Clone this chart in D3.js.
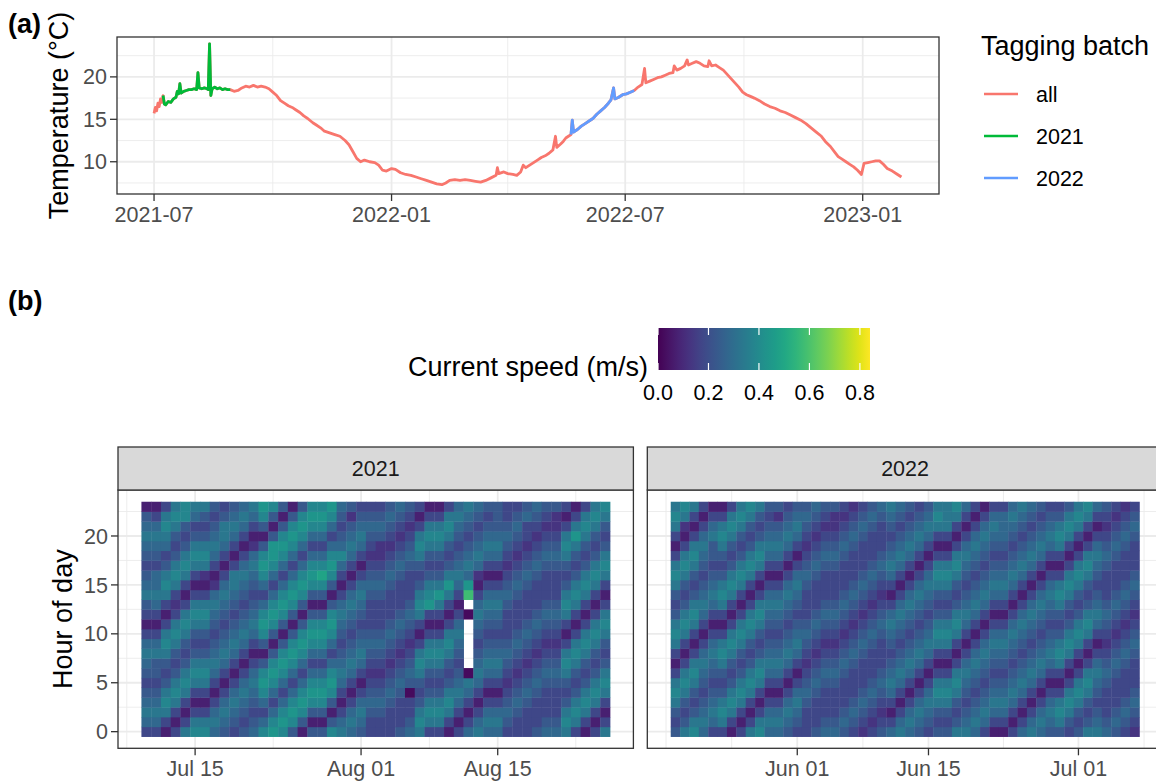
<!DOCTYPE html>
<html>
<head>
<meta charset="utf-8">
<script src="https://cdn.jsdelivr.net/npm/d3@7"></script>
<style>
  body { margin: 0; background: #fff; }
  svg { display: block; font-family: "Liberation Sans", Arial, sans-serif; }
</style>
</head>
<body>
<svg id="chart" width="1156" height="783"></svg>
<script>

//============================================================
// Data
//------------------------------------------------------------

// (a) water temperature, all records
var tempDates = [
  '2021-07-01','2021-07-02','2021-07-03','2021-07-04','2021-07-05','2021-07-06','2021-07-07','2021-07-08',
  '2021-07-09','2021-07-10','2021-07-12','2021-07-14','2021-07-16','2021-07-18','2021-07-19','2021-07-20',
  '2021-07-21','2021-07-22','2021-07-24','2021-07-26','2021-07-28','2021-07-30','2021-08-01','2021-08-03',
  '2021-08-04','2021-08-05','2021-08-07','2021-08-09','2021-08-11','2021-08-12','2021-08-13','2021-08-14',
  '2021-08-15','2021-08-17','2021-08-19','2021-08-21','2021-08-23','2021-08-25','2021-08-27','2021-08-29',
  '2021-09-01','2021-09-04','2021-09-07','2021-09-10','2021-09-13','2021-09-16','2021-09-19','2021-09-22',
  '2021-09-25','2021-09-28','2021-10-01','2021-10-04','2021-10-07','2021-10-10','2021-10-13','2021-10-16',
  '2021-10-19','2021-10-22','2021-10-25','2021-10-28','2021-11-01','2021-11-04','2021-11-07','2021-11-10',
  '2021-11-14','2021-11-18','2021-11-22','2021-11-26','2021-11-29','2021-12-02','2021-12-05','2021-12-08',
  '2021-12-11','2021-12-15','2021-12-19','2021-12-22','2021-12-25','2021-12-28','2022-01-01','2022-01-04',
  '2022-01-08','2022-01-12','2022-01-16','2022-01-20','2022-01-24','2022-01-28','2022-02-01','2022-02-05',
  '2022-02-09','2022-02-12','2022-02-15','2022-02-19','2022-02-23','2022-02-27','2022-03-03','2022-03-07',
  '2022-03-11','2022-03-15','2022-03-19','2022-03-23','2022-03-24','2022-03-25','2022-03-29','2022-04-01',
  '2022-04-05','2022-04-08','2022-04-11','2022-04-13','2022-04-15','2022-04-18','2022-04-21','2022-04-24',
  '2022-04-27','2022-04-30','2022-05-03','2022-05-06','2022-05-08','2022-05-09','2022-05-12','2022-05-14',
  '2022-05-16','2022-05-18','2022-05-20','2022-05-21','2022-05-22','2022-05-25','2022-05-28','2022-05-31',
  '2022-06-03','2022-06-06','2022-06-09','2022-06-12','2022-06-15','2022-06-18','2022-06-20','2022-06-22',
  '2022-06-23','2022-06-26','2022-06-29','2022-07-02','2022-07-05','2022-07-08','2022-07-11','2022-07-14',
  '2022-07-16','2022-07-17','2022-07-20','2022-07-23','2022-07-26','2022-07-29','2022-08-01','2022-08-04',
  '2022-08-07','2022-08-08','2022-08-10','2022-08-13','2022-08-16','2022-08-18','2022-08-19','2022-08-22',
  '2022-08-25','2022-08-28','2022-08-31','2022-09-03','2022-09-04','2022-09-06','2022-09-09','2022-09-12',
  '2022-09-15','2022-09-18','2022-09-21','2022-09-24','2022-09-27','2022-09-30','2022-10-03','2022-10-06',
  '2022-10-09','2022-10-13','2022-10-17','2022-10-21','2022-10-25','2022-10-29','2022-11-02','2022-11-06',
  '2022-11-10','2022-11-14','2022-11-18','2022-11-22','2022-11-26','2022-11-30','2022-12-03','2022-12-07',
  '2022-12-10','2022-12-13','2022-12-16','2022-12-19','2022-12-22','2022-12-25','2022-12-28','2022-12-31',
  '2023-01-02','2023-01-05','2023-01-08','2023-01-11','2023-01-14','2023-01-17','2023-01-20','2023-01-24',
  '2023-01-28','2023-01-31'
];
var tempValues = [
  15.7,16.4,16.0,16.9,16.5,17.4,17.0,17.8,
  16.8,16.7,17.1,17.0,17.4,17.6,18.3,18.0,
  19.2,18.1,18.3,18.4,18.5,18.5,18.6,18.5,
  20.5,18.7,18.6,18.7,18.6,18.5,23.9,17.8,
  18.6,18.8,18.6,18.7,18.5,18.6,18.5,18.5,
  18.3,18.4,18.7,18.9,18.8,19.0,18.8,18.9,
  18.8,18.6,18.2,17.8,17.2,16.9,16.6,16.4,
  16.1,15.8,15.4,15.1,14.6,14.3,14.0,13.6,
  13.4,13.2,13.0,12.5,12.0,11.2,10.4,10.0,
  10.2,10.0,9.9,9.6,9.0,8.9,9.2,9.1,
  8.7,8.5,8.4,8.2,8.0,7.8,7.6,7.4,
  7.3,7.5,7.8,7.9,7.8,7.9,7.8,7.7,
  7.6,7.8,8.1,8.4,9.3,8.6,8.8,8.6,
  8.5,8.4,8.8,9.6,9.3,9.6,9.9,10.2,
  10.5,10.7,11.0,11.4,13.0,11.7,12.1,12.4,
  12.8,13.0,13.2,14.9,13.5,13.8,14.2,14.5,
  14.8,15.1,15.6,16.0,16.4,16.9,17.3,18.7,
  17.4,17.6,17.9,18.0,18.2,18.4,18.8,19.1,
  21.0,19.3,19.5,19.7,19.9,20.0,20.2,20.4,
  20.5,21.3,20.8,21.0,21.3,22.0,21.4,21.6,
  21.8,21.6,21.3,21.2,21.9,21.3,21.4,21.1,
  20.8,20.3,19.8,19.3,18.8,18.2,17.9,17.7,
  17.5,17.2,16.8,16.5,16.3,16.0,15.8,15.5,
  15.2,14.9,14.5,14.0,13.5,13.0,12.4,11.8,
  11.2,10.6,10.3,10.0,9.7,9.4,9.0,8.5,
  9.8,9.9,10.0,10.1,10.1,9.7,9.2,8.9,
  8.5,8.2
];

var batchNames = ['all', '2021', '2022'];
var batchPeriods = { '2021': ['2021-07-08', '2021-08-29'], '2022': ['2022-05-20', '2022-07-08'] };
var tempTicks = [10, 15, 20];
var tempMinorTicks = [7.5, 12.5, 17.5, 22.5];
var dateTicksA = ['2021-07-01', '2022-01-01', '2022-07-01', '2023-01-01'];
var dateMinorA = ['2021-10-01', '2022-04-01', '2022-10-01'];

// (b) current speed, one string per day, hours 0..23
// code: digit d -> 0.022 + d * 0.052 m/s, 'A' -> 0.58 m/s, '-' -> no data
var speedStart2021 = '2021-07-10';
var speed2021 = [
  '356543456531346543456541','356543446531356553456531','136764346763136764356763','313676434676323676434676',
  '631367643467631367643477','763136764346763136764356','763136764346763126764346','565313565434565213565434',
  '456531356543456531356643','345653135654345663135654','434565313565434565313565','543456531356543456521356',
  '753578741478753578741478','875357874147875357884147','787535787414787535787414','478753578741478753578741',
  '147875357874147875357874','414787535787414787535787','414787535787414797535787','741478753578741478753578',
  '653135654345653135754345','565313565434565313565424','456531356543456531356543','334543234543334543234543',
  '334543234543334543224543','333454323454333454323454','433345432345433345432345','543304543234543334543234',
  '676434676313676434676313','367643467631387643467631','367643467631368643467631','136764346763136864346763',
  '313565434565313565434565','5313560-----0-A856543456','653135654345653125654345','565313565434565313565434',
  '565313565434565313565444','345432345433345432345433','334543234543334543234543','333454323454333454323354',
  '433345432345433345432345','543334543234543334543234','543334543234543334543224','676434676313676434676313',
  '367643467631367643468631','136764346763136764346763','313676434676313676434676','631367643467631367643467'
];
var speedStart2022 = '2022-05-19';
var speed2022 = [
  '434676313676434676313676','643467631367643467631267','764346763136764346763136','565434565313565434565313',
  '356543456531356543446531','367643467631367643467631','136764346763136764346763','313676434676313676434676',
  '631367643467631367643467','763136764346763136764346','565313565434565313565434','565313565434565313565424',
  '456531356543456531356543','345653135654345653135654','333454323454333454323454','433345432345433345432345',
  '543334543234543334543234','543334543234543334543224','454333454323454333454323','345433345432345433345432',
  '234543334543234543334543','323454333454323454333454','432345433345432345433345','531356543456531356543456',
  '653135654345653135654345','565313565434565313565434','456531356543456531356543','345653135654345653135654',
  '434676313676434676313676','434676313676434676313666','643467631367643467631367','654345653135654345653135',
  '565434565313565434565313','356543456531356543456531','135654345653135654345653','135654345653135654345553',
  '313565434565313565434565','531356543456531356543456','653135654345653135654345','565313565434565313565434',
  '456531356543456531356543','467631367643467631367643','346763136764346763136764','434676313676434676313676',
  '643467631367643467631367','654345653135654345653135','543334543234543334543234','454333454323454333454323',
  '345433345432345433345432','234543334543234543334543'
];
var speedMax = 0.84;
var speedTicks = [0, 0.2, 0.4, 0.6, 0.8];
var hourTicks = [0, 5, 10, 15, 20];
var hourMinorTicks = [2.5, 7.5, 12.5, 17.5, 22.5];
var dayTicks2021 = ['2021-07-15', '2021-08-01', '2021-08-15'];
var dayMinor2021 = ['2021-07-08', '2021-07-23', '2021-08-08', '2021-08-23'];
var dayTicks2022 = ['2022-06-01', '2022-06-15', '2022-07-01'];
var dayMinor2022 = ['2022-05-18', '2022-05-25', '2022-06-08', '2022-06-23', '2022-07-08'];

//============================================================
// Setup
//------------------------------------------------------------

var DAY = 864e5
  , parseDate = d3.utcParse('%Y-%m-%d')
  , svg = d3.select('#chart')
  , titleSize = 27
  , textSize = 21.5
  , tickColor = '#4D4D4D'
  , gridColor = '#EBEBEB'
  , borderColor = '#333333'
  , batchColor = d3.scaleOrdinal().domain(batchNames).range(['#F8766D', '#00BA38', '#619CFF'])
  ;

function decodeSpeed(ch) {
  if (ch === '-') return null;
  if (ch === 'A') return 0.58;
  return 0.022 + (+ch) * 0.052;
}

var fill = d3.scaleSequential(d3.interpolateViridis).domain([0, speedMax]);


//============================================================
// (a) Temperature
//------------------------------------------------------------

var pa = {left: 117, right: 939, top: 37, bottom: 194};
var origin = Date.UTC(2021, 6, 1);

var xa = d3.scaleUtc()
    .domain([new Date(origin - 28.7 * DAY), new Date(origin + 608.1 * DAY)])
    .range([pa.left, pa.right]);
var ya = d3.scaleLinear().domain([6.2, 24.7]).range([pa.bottom, pa.top]);

var ga = svg.append('g').attr('class', 'panel-a');

ga.append('rect')
    .attr('x', pa.left).attr('y', pa.top)
    .attr('width', pa.right - pa.left).attr('height', pa.bottom - pa.top)
    .attr('fill', '#fff');

ga.selectAll('line.hminor').data(tempMinorTicks).enter().append('line')
    .attr('x1', pa.left).attr('x2', pa.right)
    .attr('y1', ya).attr('y2', ya)
    .attr('stroke', gridColor).attr('stroke-width', 0.9);
ga.selectAll('line.vminor').data(dateMinorA).enter().append('line')
    .attr('x1', function(d) { return xa(parseDate(d)) }).attr('x2', function(d) { return xa(parseDate(d)) })
    .attr('y1', pa.top).attr('y2', pa.bottom)
    .attr('stroke', gridColor).attr('stroke-width', 0.9);
ga.selectAll('line.hmajor').data(tempTicks).enter().append('line')
    .attr('x1', pa.left).attr('x2', pa.right)
    .attr('y1', ya).attr('y2', ya)
    .attr('stroke', gridColor).attr('stroke-width', 1.8);
ga.selectAll('line.vmajor').data(dateTicksA).enter().append('line')
    .attr('x1', function(d) { return xa(parseDate(d)) }).attr('x2', function(d) { return xa(parseDate(d)) })
    .attr('y1', pa.top).attr('y2', pa.bottom)
    .attr('stroke', gridColor).attr('stroke-width', 1.8);

var temp = tempDates.map(function(d, i) { return {date: parseDate(d), value: tempValues[i]} });

var line = d3.line()
    .x(function(d) { return xa(d.date) })
    .y(function(d) { return ya(d.value) });

function inPeriod(name) {
  var p = batchPeriods[name].map(parseDate);
  return temp.filter(function(d) { return d.date >= p[0] && d.date <= p[1] });
}

var series = [
  {name: 'all', values: temp},
  {name: '2021', values: inPeriod('2021')},
  {name: '2022', values: inPeriod('2022')}
];

ga.selectAll('path.temp').data(series).enter().append('path')
    .attr('class', 'temp')
    .attr('fill', 'none')
    .attr('stroke', function(d) { return batchColor(d.name) })
    .attr('stroke-width', 2.8)
    .attr('stroke-linejoin', 'round')
    .attr('d', function(d) { return line(d.values) });

ga.append('rect')
    .attr('x', pa.left).attr('y', pa.top)
    .attr('width', pa.right - pa.left).attr('height', pa.bottom - pa.top)
    .attr('fill', 'none').attr('stroke', borderColor).attr('stroke-width', 1.3);

// axes
ga.selectAll('line.ytick').data(tempTicks).enter().append('line')
    .attr('x1', pa.left - 7).attr('x2', pa.left)
    .attr('y1', ya).attr('y2', ya)
    .attr('stroke', borderColor).attr('stroke-width', 1.3);
ga.selectAll('text.ytick').data(tempTicks).enter().append('text')
    .attr('x', pa.left - 10).attr('y', function(d) { return ya(d) + 7.6 })
    .attr('text-anchor', 'end').attr('font-size', textSize).attr('fill', tickColor)
    .text(function(d) { return d });
ga.selectAll('line.xtick').data(dateTicksA).enter().append('line')
    .attr('x1', function(d) { return xa(parseDate(d)) }).attr('x2', function(d) { return xa(parseDate(d)) })
    .attr('y1', pa.bottom).attr('y2', pa.bottom + 7)
    .attr('stroke', borderColor).attr('stroke-width', 1.3);
ga.selectAll('text.xtick').data(dateTicksA).enter().append('text')
    .attr('x', function(d) { return xa(parseDate(d)) }).attr('y', pa.bottom + 28)
    .attr('text-anchor', 'middle').attr('font-size', textSize).attr('fill', tickColor)
    .text(function(d) { return d3.utcFormat('%Y-%m')(parseDate(d)) });

ga.append('text')
    .attr('transform', 'translate(68,' + ((pa.top + pa.bottom) / 2) + ') rotate(-90)')
    .attr('text-anchor', 'middle').attr('font-size', titleSize)
    .text('Temperature (°C)');

// legend
var lg = svg.append('g').attr('transform', 'translate(981,0)');
lg.append('text').attr('x', 0).attr('y', 55).attr('font-size', titleSize).text('Tagging batch');
var item = lg.selectAll('g.item').data(batchNames).enter().append('g')
    .attr('transform', function(d, i) { return 'translate(0,' + (94 + i * 42) + ')' });
item.append('line')
    .attr('x1', 3).attr('x2', 37).attr('y1', 0).attr('y2', 0)
    .attr('stroke', function(d) { return batchColor(d) }).attr('stroke-width', 2.6);
item.append('text')
    .attr('x', 55).attr('y', 7.6).attr('font-size', textSize)
    .text(function(d) { return d });

svg.append('text').attr('x', 8).attr('y', 33).attr('font-size', 27).attr('font-weight', 'bold').text('(a)');
svg.append('text').attr('x', 8).attr('y', 310).attr('font-size', 27).attr('font-weight', 'bold').text('(b)');


//============================================================
// Colour bar
//------------------------------------------------------------

var cb = {left: 658, width: 212, top: 328, height: 42};
var xc = d3.scaleLinear().domain([0, speedMax]).range([cb.left, cb.left + cb.width]);

var grad = svg.append('defs').append('linearGradient').attr('id', 'viridis');
grad.selectAll('stop').data(d3.range(0, 1.0001, 0.05)).enter().append('stop')
    .attr('offset', function(t) { return (t * 100) + '%' })
    .attr('stop-color', function(t) { return d3.interpolateViridis(t) });

svg.append('rect')
    .attr('x', cb.left).attr('y', cb.top).attr('width', cb.width).attr('height', cb.height)
    .attr('fill', 'url(#viridis)');

svg.selectAll('line.cbtop').data(speedTicks).enter().append('line')
    .attr('x1', xc).attr('x2', xc).attr('y1', cb.top).attr('y2', cb.top + 7)
    .attr('stroke', '#fff').attr('stroke-width', 1.2);
svg.selectAll('line.cbbot').data(speedTicks).enter().append('line')
    .attr('x1', xc).attr('x2', xc).attr('y1', cb.top + cb.height - 7).attr('y2', cb.top + cb.height)
    .attr('stroke', '#fff').attr('stroke-width', 1.2);
svg.selectAll('text.cb').data(speedTicks).enter().append('text')
    .attr('x', xc).attr('y', 400)
    .attr('text-anchor', 'middle').attr('font-size', textSize)
    .text(function(d) { return d3.format('.1f')(d) });
svg.append('text')
    .attr('x', 648).attr('y', 376).attr('text-anchor', 'end').attr('font-size', titleSize)
    .text('Current speed (m/s)');


//============================================================
// (b) Current speed heatmaps
//------------------------------------------------------------

var pb = {top: 490, bottom: 748.3, stripTop: 447};
var yb = d3.scaleLinear().domain([-1.7, 24.7]).range([pb.bottom, pb.top]);

function facet(opts) {
  var start = parseDate(opts.start)
    , n = opts.days.length
    , x0 = +start - 0.5 * DAY - 0.05 * n * DAY
    , x1 = +start + (n - 0.5) * DAY + 0.05 * n * DAY
    , x = d3.scaleUtc().domain([new Date(x0), new Date(x1)]).range([opts.left, opts.right])
    , g = svg.append('g').attr('class', 'facet')
    , w = opts.right - opts.left
    ;

  g.append('rect')
      .attr('x', opts.left).attr('y', pb.top).attr('width', w).attr('height', pb.bottom - pb.top)
      .attr('fill', '#fff');

  g.selectAll('line.hminor').data(hourMinorTicks).enter().append('line')
      .attr('x1', opts.left).attr('x2', opts.right).attr('y1', yb).attr('y2', yb)
      .attr('stroke', gridColor).attr('stroke-width', 0.9);
  g.selectAll('line.vminor').data(opts.minor).enter().append('line')
      .attr('x1', function(d) { return x(parseDate(d)) }).attr('x2', function(d) { return x(parseDate(d)) })
      .attr('y1', pb.top).attr('y2', pb.bottom)
      .attr('stroke', gridColor).attr('stroke-width', 0.9);
  g.selectAll('line.hmajor').data(hourTicks).enter().append('line')
      .attr('x1', opts.left).attr('x2', opts.right).attr('y1', yb).attr('y2', yb)
      .attr('stroke', gridColor).attr('stroke-width', 1.8);
  g.selectAll('line.vmajor').data(opts.ticks).enter().append('line')
      .attr('x1', function(d) { return x(parseDate(d)) }).attr('x2', function(d) { return x(parseDate(d)) })
      .attr('y1', pb.top).attr('y2', pb.bottom)
      .attr('stroke', gridColor).attr('stroke-width', 1.8);

  var cells = [];
  opts.days.forEach(function(col, c) {
    var day = +start + c * DAY;
    for (var h = 0; h < 24; h++) {
      var v = decodeSpeed(col.charAt(h));
      if (v !== null) cells.push({day: day, hour: h, value: v});
    }
  });

  g.selectAll('rect.tile').data(cells).enter().append('rect')
      .attr('class', 'tile')
      .attr('x', function(d) { return x(new Date(d.day - 0.5 * DAY)) })
      .attr('y', function(d) { return yb(d.hour + 0.5) })
      .attr('width', function(d) { return x(new Date(d.day + 0.5 * DAY)) - x(new Date(d.day - 0.5 * DAY)) + 0.4 })
      .attr('height', yb(0) - yb(1) + 0.4)
      .attr('fill', function(d) { return fill(d.value) });

  g.append('rect')
      .attr('x', opts.left).attr('y', pb.top).attr('width', w).attr('height', pb.bottom - pb.top)
      .attr('fill', 'none').attr('stroke', borderColor).attr('stroke-width', 1.3);

  // strip
  g.append('rect')
      .attr('x', opts.left).attr('y', pb.stripTop).attr('width', w).attr('height', pb.top - pb.stripTop)
      .attr('fill', '#D9D9D9').attr('stroke', borderColor).attr('stroke-width', 1.3);
  g.append('text')
      .attr('x', opts.left + w / 2).attr('y', (pb.stripTop + pb.top) / 2 + 7.6)
      .attr('text-anchor', 'middle').attr('font-size', textSize).attr('fill', '#1A1A1A')
      .text(opts.label);

  // x axis
  g.selectAll('line.xtick').data(opts.ticks).enter().append('line')
      .attr('x1', function(d) { return x(parseDate(d)) }).attr('x2', function(d) { return x(parseDate(d)) })
      .attr('y1', pb.bottom).attr('y2', pb.bottom + 7)
      .attr('stroke', borderColor).attr('stroke-width', 1.3);
  g.selectAll('text.xtick').data(opts.ticks).enter().append('text')
      .attr('x', function(d) { return x(parseDate(d)) }).attr('y', pb.bottom + 28)
      .attr('text-anchor', 'middle').attr('font-size', textSize).attr('fill', tickColor)
      .text(function(d) { return d3.utcFormat('%b %d')(parseDate(d)) });

  if (opts.yAxis) {
    g.selectAll('line.ytick').data(hourTicks).enter().append('line')
        .attr('x1', opts.left - 7).attr('x2', opts.left).attr('y1', yb).attr('y2', yb)
        .attr('stroke', borderColor).attr('stroke-width', 1.3);
    g.selectAll('text.ytick').data(hourTicks).enter().append('text')
        .attr('x', opts.left - 10).attr('y', function(d) { return yb(d) + 7.6 })
        .attr('text-anchor', 'end').attr('font-size', textSize).attr('fill', tickColor)
        .text(function(d) { return d });
    g.append('text')
        .attr('transform', 'translate(72,' + ((pb.top + pb.bottom) / 2) + ') rotate(-90)')
        .attr('text-anchor', 'middle').attr('font-size', titleSize)
        .text('Hour of day');
  }
}

facet({label: '2021', left: 118, right: 633.4, start: speedStart2021, days: speed2021,
       ticks: dayTicks2021, minor: dayMinor2021, yAxis: true});
facet({label: '2022', left: 647.3, right: 1162.8, start: speedStart2022, days: speed2022,
       ticks: dayTicks2022, minor: dayMinor2022, yAxis: false});

</script>
</body>
</html>
